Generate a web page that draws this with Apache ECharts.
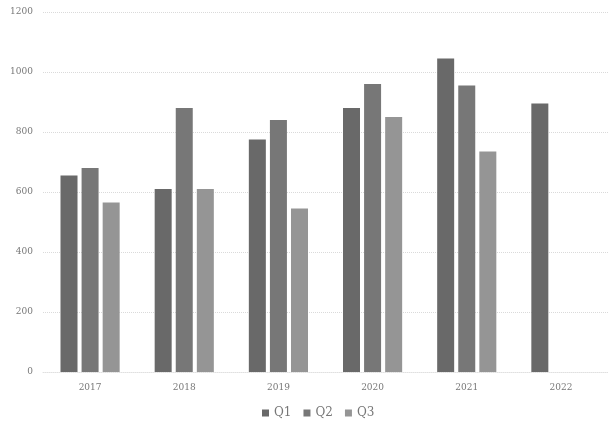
<!DOCTYPE html>
<html>
<head>
<meta charset="utf-8">
<script src="https://cdn.jsdelivr.net/npm/echarts@6/dist/echarts.min.js"></script>
<style>html,body{margin:0;padding:0;background:#fff}#c{width:608px;height:426px}</style>
</head>
<body>
<div id="c"></div>
<script>
var categories = ['2017', '2018', '2019', '2020', '2021', '2022'];
var q1 = [655, 610, 775, 880, 1045, 895];
var q2 = [680, 880, 840, 960, 955, null];
var q3 = [565, 610, 545, 850, 735, null];
var seriesNames = ['Q1', 'Q2', 'Q3'];
var yTicks = { min: 0, max: 1200, interval: 200 };

var colors = ['#696969', '#777777', '#959595'];
var chart = echarts.init(document.getElementById('c'), null, { renderer: 'canvas' });
var font = '"DejaVu Serif", serif';
chart.setOption({
  animation: false,
  backgroundColor: '#ffffff',
  color: colors,
  grid: { left: 43, right: -7, top: 12, bottom: 54, containLabel: false },
  legend: {
    data: seriesNames,
    left: 257, bottom: 2,
    itemWidth: 7, itemHeight: 7, itemGap: 12,
    icon: 'rect',
    textStyle: { color: '#777', fontSize: 12, fontFamily: font }
  },
  xAxis: {
    type: 'category',
    data: categories,
    axisTick: { show: false },
    axisLine: { show: true, lineStyle: { color: '#e0e0e0', type: 'dotted' } },
    axisLabel: { color: '#777', fontSize: 9, fontFamily: font, margin: 11 }
  },
  yAxis: {
    type: 'value',
    min: yTicks.min, max: yTicks.max, interval: yTicks.interval,
    axisLine: { show: false },
    axisTick: { show: false },
    axisLabel: { color: '#777', fontSize: 9, fontFamily: font, margin: 10, formatter: function (v) { return String(v); } },
    splitLine: { show: true, lineStyle: { color: '#dadada', type: 'dotted', width: 1 } }
  },
  series: [
    { name: 'Q1', type: 'bar', data: q1, barWidth: 17, barGap: '24%' },
    { name: 'Q2', type: 'bar', data: q2, barWidth: 17, barGap: '24%' },
    { name: 'Q3', type: 'bar', data: q3, barWidth: 17, barGap: '24%' }
  ]
});
</script>
</body>
</html>
